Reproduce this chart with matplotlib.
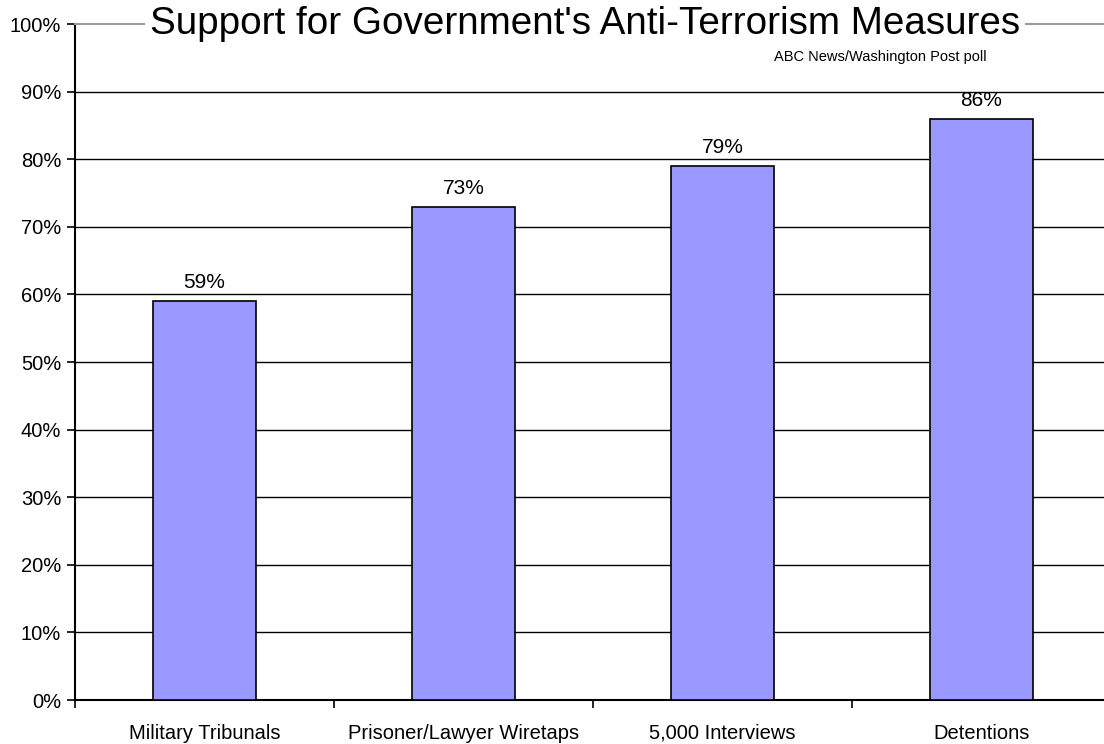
import matplotlib
matplotlib.use("Agg")
import matplotlib.pyplot as plt
import numpy as np
from matplotlib.ticker import FixedLocator

plt.rcParams["font.family"] = ["Liberation Sans", "DejaVu Sans"]

categories = ["Military Tribunals", "Prisoner/Lawyer Wiretaps", "5,000 Interviews", "Detentions"]
support = [59, 73, 79, 86]
y_ticks = list(range(0, 101, 10))

fig = plt.figure(figsize=(11.04, 7.44), dpi=100)
W, H = 1104, 744
ax = fig.add_axes([75 / W, 44 / H, 1036 / W, 676 / H])

x = np.arange(len(categories))
ax.bar(x, support, width=0.40, color="#9999FF", edgecolor="black", linewidth=1.2, zorder=3)
for xi, v in zip(x, support):
    ax.text(xi, v + 1.3, f"{v}%", ha="center", va="bottom", fontsize=15)

ax.set_xlim(-0.5, len(categories) - 0.5)
ax.set_ylim(0, 100)
ax.set_yticks(y_ticks)
ax.set_yticklabels([f"{t}%" for t in y_ticks], fontsize=14.5)
ax.set_xticks(x)
ax.set_xticklabels(categories, fontsize=14.5)
ax.tick_params(axis="x", length=0, pad=17)
ax.xaxis.set_minor_locator(FixedLocator(np.arange(-0.5, len(categories), 1.0)))
ax.tick_params(axis="x", which="minor", length=6, width=1.2, direction="out")
ax.tick_params(axis="y", length=6, width=1.2, direction="out", pad=4)

for t in y_ticks[1:-1]:
    ax.axhline(t, color="black", linewidth=1.0, zorder=1)

ax.spines["right"].set_visible(False)
ax.spines["top"].set_color("#999999")
ax.spines["top"].set_linewidth(1.5)
ax.spines["left"].set_linewidth(1.5)
ax.spines["bottom"].set_linewidth(1.5)

fig.text(585 / W, 1 - 24 / H, "Support for Government's Anti-Terrorism Measures",
         ha="center", va="center", fontsize=27.8,
         bbox=dict(facecolor="white", edgecolor="none", pad=4))
fig.text(987 / W, 1 - 57 / H, "ABC News/Washington Post poll",
         ha="right", va="center", fontsize=10.5)

fig.savefig("out.png", dpi=100)
